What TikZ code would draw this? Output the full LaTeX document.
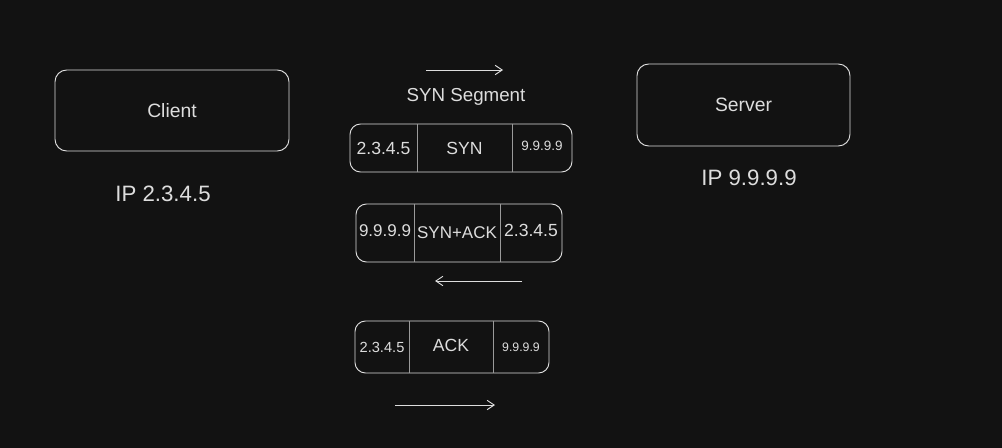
\documentclass[tikz,border=0pt]{standalone}
\usepackage{fontspec}
\setmainfont{Liberation Sans}
\usepackage{tikz}
\usetikzlibrary{arrows.meta, positioning}
\definecolor{canvas}{HTML}{121212}
\definecolor{ink}{HTML}{DDDDDD}
\definecolor{rule}{HTML}{9A9A9A}

\begin{document}
\begin{tikzpicture}[x=0.03cm, y=-0.03cm, >={Straight Barb[length=6pt,width=8pt]},
  line width=0.8pt,
  hostbox/.style={rectangle, rounded corners=10pt, draw=ink, text=ink, font=\fontsize{16.5}{18}\selectfont},
  label/.style={text=ink, font=\fontsize{19}{21}\selectfont},
  cell/.style={rectangle, inner sep=0pt, outer sep=0pt, text=ink, anchor=west},
  segbox/.style={draw=ink, rounded corners=9pt},
  divider/.style={draw=rule},
  flow/.style={->, draw=ink}]
  \useasboundingbox[fill=canvas] (0,0) rectangle (1002,448);

  % hosts
  \node[hostbox, minimum width=7.02cm, minimum height=2.43cm] (client) at (172,110.5) {Client};
  \node[label] (clientip) at (163,194) {IP 2.3.4.5};
  \node[hostbox, minimum width=6.39cm, minimum height=2.46cm] (server) at (743.5,105) {Server};
  \node[label] (serverip) at (749,178) {IP 9.9.9.9};

  % SYN
  \coordinate (syn from) at (426,70);
  \coordinate (syn to) at (503,70);
  \draw[flow] (syn from) -- (syn to);
  \node[text=ink, font=\fontsize{16}{18}\selectfont] (syntitle) at (466,97) {SYN Segment};
  \node[cell, minimum width=2.01cm, minimum height=1.44cm, font=\fontsize{15}{16}\selectfont] (synsrc) at (350,148) {\raisebox{-2pt}{2.3.4.5}};
  \node[cell, minimum width=2.85cm, minimum height=1.44cm, font=\fontsize{15}{16}\selectfont, right=0pt of synsrc] (synflag) {SYN};
  \node[cell, minimum width=1.80cm, minimum height=1.44cm, font=\fontsize{11.5}{13}\selectfont, right=0pt of synflag] (syndst) {\raisebox{4pt}{9.9.9.9}};
  \draw[segbox] (synsrc.north west) rectangle (syndst.south east);
  \draw[divider] (synsrc.north east) -- (synsrc.south east);
  \draw[divider] (synflag.north east) -- (synflag.south east);

  % SYN+ACK
  \node[cell, minimum width=1.74cm, minimum height=1.74cm, font=\fontsize{14.5}{16}\selectfont] (sasrc) at (356,233) {\raisebox{4pt}{9.9.9.9}};
  \node[cell, minimum width=2.58cm, minimum height=1.74cm, font=\fontsize{14.5}{16}\selectfont, right=0pt of sasrc] (saflag) {SYN+ACK};
  \node[cell, minimum width=1.86cm, minimum height=1.74cm, font=\fontsize{15}{16}\selectfont, right=0pt of saflag] (sadst) {\raisebox{5pt}{2.3.4.5}};
  \draw[segbox] (sasrc.north west) rectangle (sadst.south east);
  \draw[divider] (sasrc.north east) -- (sasrc.south east);
  \draw[divider] (saflag.north east) -- (saflag.south east);
  \coordinate (sa from) at (522,281);
  \coordinate (sa to) at (435,281);
  \draw[flow] (sa from) -- (sa to);

  % ACK
  \node[cell, minimum width=1.62cm, minimum height=1.56cm, font=\fontsize{12.5}{14}\selectfont] (acksrc) at (355,347) {\raisebox{-2pt}{2.3.4.5}};
  \node[cell, minimum width=2.52cm, minimum height=1.56cm, font=\fontsize{15}{16}\selectfont, right=0pt of acksrc] (ackflag) {\raisebox{2pt}{ACK}};
  \node[cell, minimum width=1.68cm, minimum height=1.56cm, font=\fontsize{10.5}{12}\selectfont, right=0pt of ackflag] (ackdst) {9.9.9.9};
  \draw[segbox] (acksrc.north west) rectangle (ackdst.south east);
  \draw[divider] (acksrc.north east) -- (acksrc.south east);
  \draw[divider] (ackflag.north east) -- (ackflag.south east);
  \coordinate (ack from) at (395,405);
  \coordinate (ack to) at (495,405);
  \draw[flow] (ack from) -- (ack to);
\end{tikzpicture}
\end{document}
